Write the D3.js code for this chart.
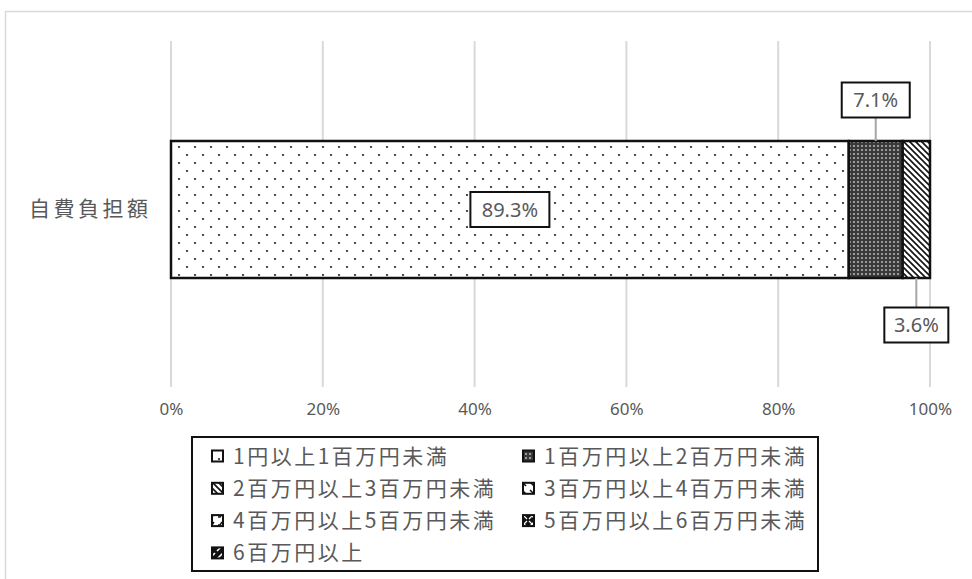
<!DOCTYPE html>
<html>
<head>
<meta charset="utf-8">
<script src="https://cdn.jsdelivr.net/npm/d3@7"></script>
<style>
  html, body { margin: 0; padding: 0; background: #fff; }
  svg text { font-family: "Noto Sans CJK JP", "Noto Sans", sans-serif; fill: #595959; }
</style>
</head>
<body>
<svg id="chart" width="972" height="579"></svg>
<script>
// Category and series
const categories = ["自費負担額"];
const seriesNames = [
  "1円以上1百万円未満",
  "1百万円以上2百万円未満",
  "2百万円以上3百万円未満",
  "3百万円以上4百万円未満",
  "4百万円以上5百万円未満",
  "5百万円以上6百万円未満",
  "6百万円以上"
];
const seriesValues = [89.3, 7.1, 3.6, 0, 0, 0, 0];
const tickValues = [0, 20, 40, 60, 80, 100];
const tickLabels = ["0%", "20%", "40%", "60%", "80%", "100%"];

const svg = d3.select("#chart");
const defs = svg.append("defs");

// Fill patterns for each series
function pat(id, size, draw) {
  const p = defs.append("pattern").attr("id", id)
    .attr("patternUnits", "userSpaceOnUse").attr("width", size).attr("height", size);
  draw(p);
}
pat("p0", 16, p => {
  p.append("rect").attr("width", 16).attr("height", 16).attr("fill", "#fff");
  p.append("circle").attr("cx", 3).attr("cy", 3).attr("r", 1.1).attr("fill", "#222");
  p.append("circle").attr("cx", 11).attr("cy", 11).attr("r", 1.1).attr("fill", "#222");
});
pat("p1", 4, p => {
  p.append("rect").attr("width", 4).attr("height", 4).attr("fill", "#3a3a3a");
  p.append("rect").attr("x", 1).attr("y", 1).attr("width", 2).attr("height", 2).attr("fill", "#9a9a9a");
});
pat("p2", 6, p => {
  p.append("rect").attr("width", 6).attr("height", 6).attr("fill", "#fff");
  p.append("path").attr("d", "M-1,-1 L7,7 M-1,5 L1,7 M5,-1 L7,1")
    .attr("stroke", "#111").attr("stroke-width", 1.6);
});
pat("p3", 8, p => {
  p.append("rect").attr("width", 8).attr("height", 8).attr("fill", "#fff");
  p.append("path").attr("d", "M2,2 L6,6").attr("stroke", "#111").attr("stroke-width", 1.6);
});
pat("p4", 8, p => {
  p.append("rect").attr("width", 8).attr("height", 8).attr("fill", "#fff");
  p.append("path").attr("d", "M2,5 L4,5 L6,2").attr("stroke", "#111").attr("stroke-width", 1.4).attr("fill", "none");
});
pat("p5", 8, p => {
  p.append("rect").attr("width", 8).attr("height", 8).attr("fill", "#111");
  p.append("path").attr("d", "M1,1 L7,7 M7,1 L1,7").attr("stroke", "#fff").attr("stroke-width", 1.2);
});
pat("p6", 8, p => {
  p.append("rect").attr("width", 8).attr("height", 8).attr("fill", "#111");
  p.append("path").attr("d", "M1,7 L7,1").attr("stroke", "#fff").attr("stroke-width", 1.6);
});
const patIds = ["p0", "p1", "p2", "p3", "p4", "p5", "p6"];

// Outer chart frame
svg.append("rect").attr("x", 5.5).attr("y", 11.5).attr("width", 980).attr("height", 600)
  .attr("fill", "none").attr("stroke", "#d9d9d9").attr("stroke-width", 1.5);

// Scales
const x = d3.scaleLinear().domain([0, 100]).range([171, 930]);
const y = d3.scaleBand().domain(categories).range([141, 278]).padding(0);

// Gridlines
svg.append("g").selectAll("line").data(tickValues).join("line")
  .attr("x1", d => x(d)).attr("x2", d => x(d))
  .attr("y1", 41).attr("y2", 387)
  .attr("stroke", "#d9d9d9").attr("stroke-width", 2);

// X axis labels
const xAxis = d3.axisBottom(x).tickValues(tickValues)
  .tickFormat((d, i) => tickLabels[i]).tickSize(0).tickPadding(0);
const gx = svg.append("g").attr("transform", "translate(0,403)").call(xAxis);
gx.select(".domain").remove();
gx.selectAll("text").attr("font-size", 17).attr("fill", "#595959")
  .style("font-family", "'Noto Sans', sans-serif");

// Category label
const gy = svg.append("g").attr("transform", "translate(151.5,0)")
  .call(d3.axisLeft(y).tickSize(0).tickPadding(0));
gy.select(".domain").remove();
gy.selectAll("text").attr("font-size", 21).attr("fill", "#7f7f7f")
  .attr("text-anchor", "end").style("letter-spacing", "3.5px");

// Stacked segments
let acc = 0;
const segs = seriesValues.map((v, i) => {
  const s = { i, v, x0: acc, x1: acc + v };
  acc += v;
  return s;
});
const bandTop = y(categories[0]), bandH = y.bandwidth();
svg.append("g").selectAll("rect").data(segs.filter(d => d.v > 0)).join("rect")
  .attr("x", d => x(d.x0)).attr("width", d => x(d.x1) - x(d.x0))
  .attr("y", bandTop).attr("height", bandH)
  .attr("fill", d => `url(#${patIds[d.i]})`)
  .attr("stroke", "#111").attr("stroke-width", 2.5);

// Data labels with boxes
const labelPos = [
  { i: 0, cy: bandTop + bandH / 2, lead: null },
  { i: 1, cy: 100, lead: "up" },
  { i: 2, cy: 325, lead: "down" }
];
labelPos.forEach(lp => {
  const d = segs[lp.i];
  const cx = x((d.x0 + d.x1) / 2);
  const g = svg.append("g");
  const w = lp.i === 0 ? 79 : (lp.i === 1 ? 68 : 64), h = 35;
  let bx = cx - w / 2;
  if (lp.lead === "down") bx = cx - 32;
  if (lp.lead === "up") {
    g.append("line").attr("x1", cx).attr("x2", cx).attr("y1", lp.cy + h / 2).attr("y2", bandTop)
      .attr("stroke", "#a6a6a6").attr("stroke-width", 2);
  }
  if (lp.lead === "down") {
    g.append("line").attr("x1", cx).attr("x2", cx).attr("y1", bandTop + bandH).attr("y2", lp.cy - h / 2)
      .attr("stroke", "#a6a6a6").attr("stroke-width", 2);
  }
  g.append("rect").attr("x", bx).attr("y", lp.cy - h / 2).attr("width", w).attr("height", h)
    .attr("fill", "#fff").attr("stroke", "#111").attr("stroke-width", 2);
  g.append("text").attr("x", bx + w / 2).attr("y", lp.cy).attr("dy", "0.35em")
    .attr("text-anchor", "middle").attr("font-size", 20).attr("fill", "#7f7f7f")
    .style("font-family", "'Noto Sans', sans-serif")
    .text(d.v.toFixed(1) + "%");
});

// Legend
const leg = svg.append("g");
leg.append("rect").attr("x", 192).attr("y", 437).attr("width", 626).attr("height", 134)
  .attr("fill", "#fff").attr("stroke", "#111").attr("stroke-width", 2);
seriesNames.forEach((name, i) => {
  const col = i % 2, row = Math.floor(i / 2);
  const lx = col === 0 ? 212 : 523, ly = 456 + row * 32.3;
  leg.append("rect").attr("x", lx).attr("y", ly - 5.5).attr("width", 11).attr("height", 11)
    .attr("fill", `url(#${patIds[i]})`).attr("stroke", "#111").attr("stroke-width", 2);
  leg.append("text").attr("x", lx + 21).attr("y", ly).attr("dy", "0.36em")
    .attr("font-size", 21).attr("fill", "#7f7f7f").style("letter-spacing", "2.5px").text(name);
});
</script>
</body>
</html>
